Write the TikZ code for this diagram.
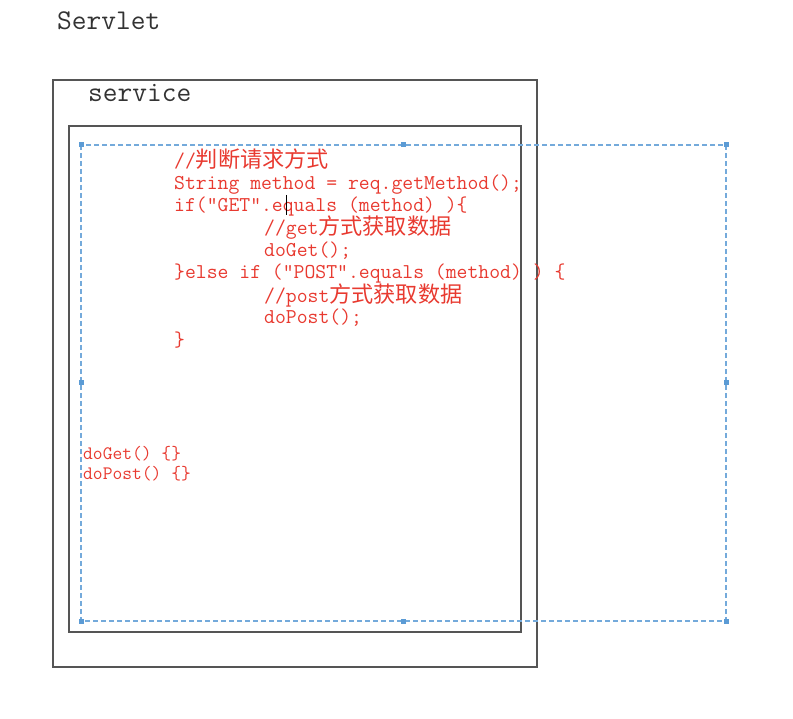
\documentclass[tikz,border=0pt]{standalone}
\usepackage{fontspec}
\newfontfamily\cjk{Noto Sans CJK SC}[Scale=1.05]

\definecolor{codered}{RGB}{232,58,48}
\definecolor{selblue}{RGB}{91,155,213}
\definecolor{boxgray}{RGB}{85,85,85}

\tikzset{
	frame/.style={draw=boxgray, line width=1.4pt},
	selbox/.style={draw=selblue!85, line width=1.5pt, dash pattern=on 5pt off 3pt},
	handle/.style={fill=selblue, minimum size=5pt, inner sep=0pt},
	code/.style={anchor=base west, inner sep=0pt, text=codered, font=\ttfamily\fontsize{21.1}{25}\selectfont},
	smallcode/.style={code, font=\ttfamily\fontsize{19}{23}\selectfont},
	title/.style={anchor=base west, inner sep=0pt, text=black!80, font=\ttfamily\fontsize{28.6}{33}\selectfont},
}

\begin{document}
\begin{tikzpicture}[x=1pt,y=-1pt]
		\useasboundingbox (0,0) rectangle (793,719);

		% Servlet and its service method
		\node[title] (servlet) at (57,30) {Servlet};
		\draw[frame] (53,80) rectangle (537,667);
		\node[title] (service) at (88,102) {service};
		\draw[frame] (69,126) rectangle (521,632);

		% Selection box with its handles
		\draw[selbox] (81,145) rectangle (726,621);
		\foreach \hx/\hy [count=\i] in {81/145,403/145,726/145,81/383,726/383,81/621,403/621,726/621} {
				\node[handle] (h\i) at (\hx,\hy) {};
			}

		% Code inside service
		\node[code] (l1) at (174,168) {//{\cjk 判断请求方式}};
		\node[code] (l2) at (174,190) {String method = req.getMethod();};
		\node[code] (l3) at (174,212) {if(”GET”.equals (method) )\{};
		\node[code] (l4) at (264,235) {//get{\cjk 方式获取数据}};
		\node[code] (l5) at (264,257) {doGet();};
		\node[code] (l6) at (174,279) {\}else if (”POST”.equals (method) ) \{};
		\node[code] (l7) at (264,303) {//post{\cjk 方式获取数据}};
		\node[code] (l8) at (264,324) {doPost();};
		\node[code] (l9) at (174,347) {\}};
		\draw[black, line width=1pt] (286,195) -- (286,215); % text cursor

		% Methods
		\node[smallcode] (doget) at (83,459) {doGet() \{\}};
		\node[smallcode] (dopost) at (83,479) {doPost() \{\}};
	\end{tikzpicture}
\end{document}
